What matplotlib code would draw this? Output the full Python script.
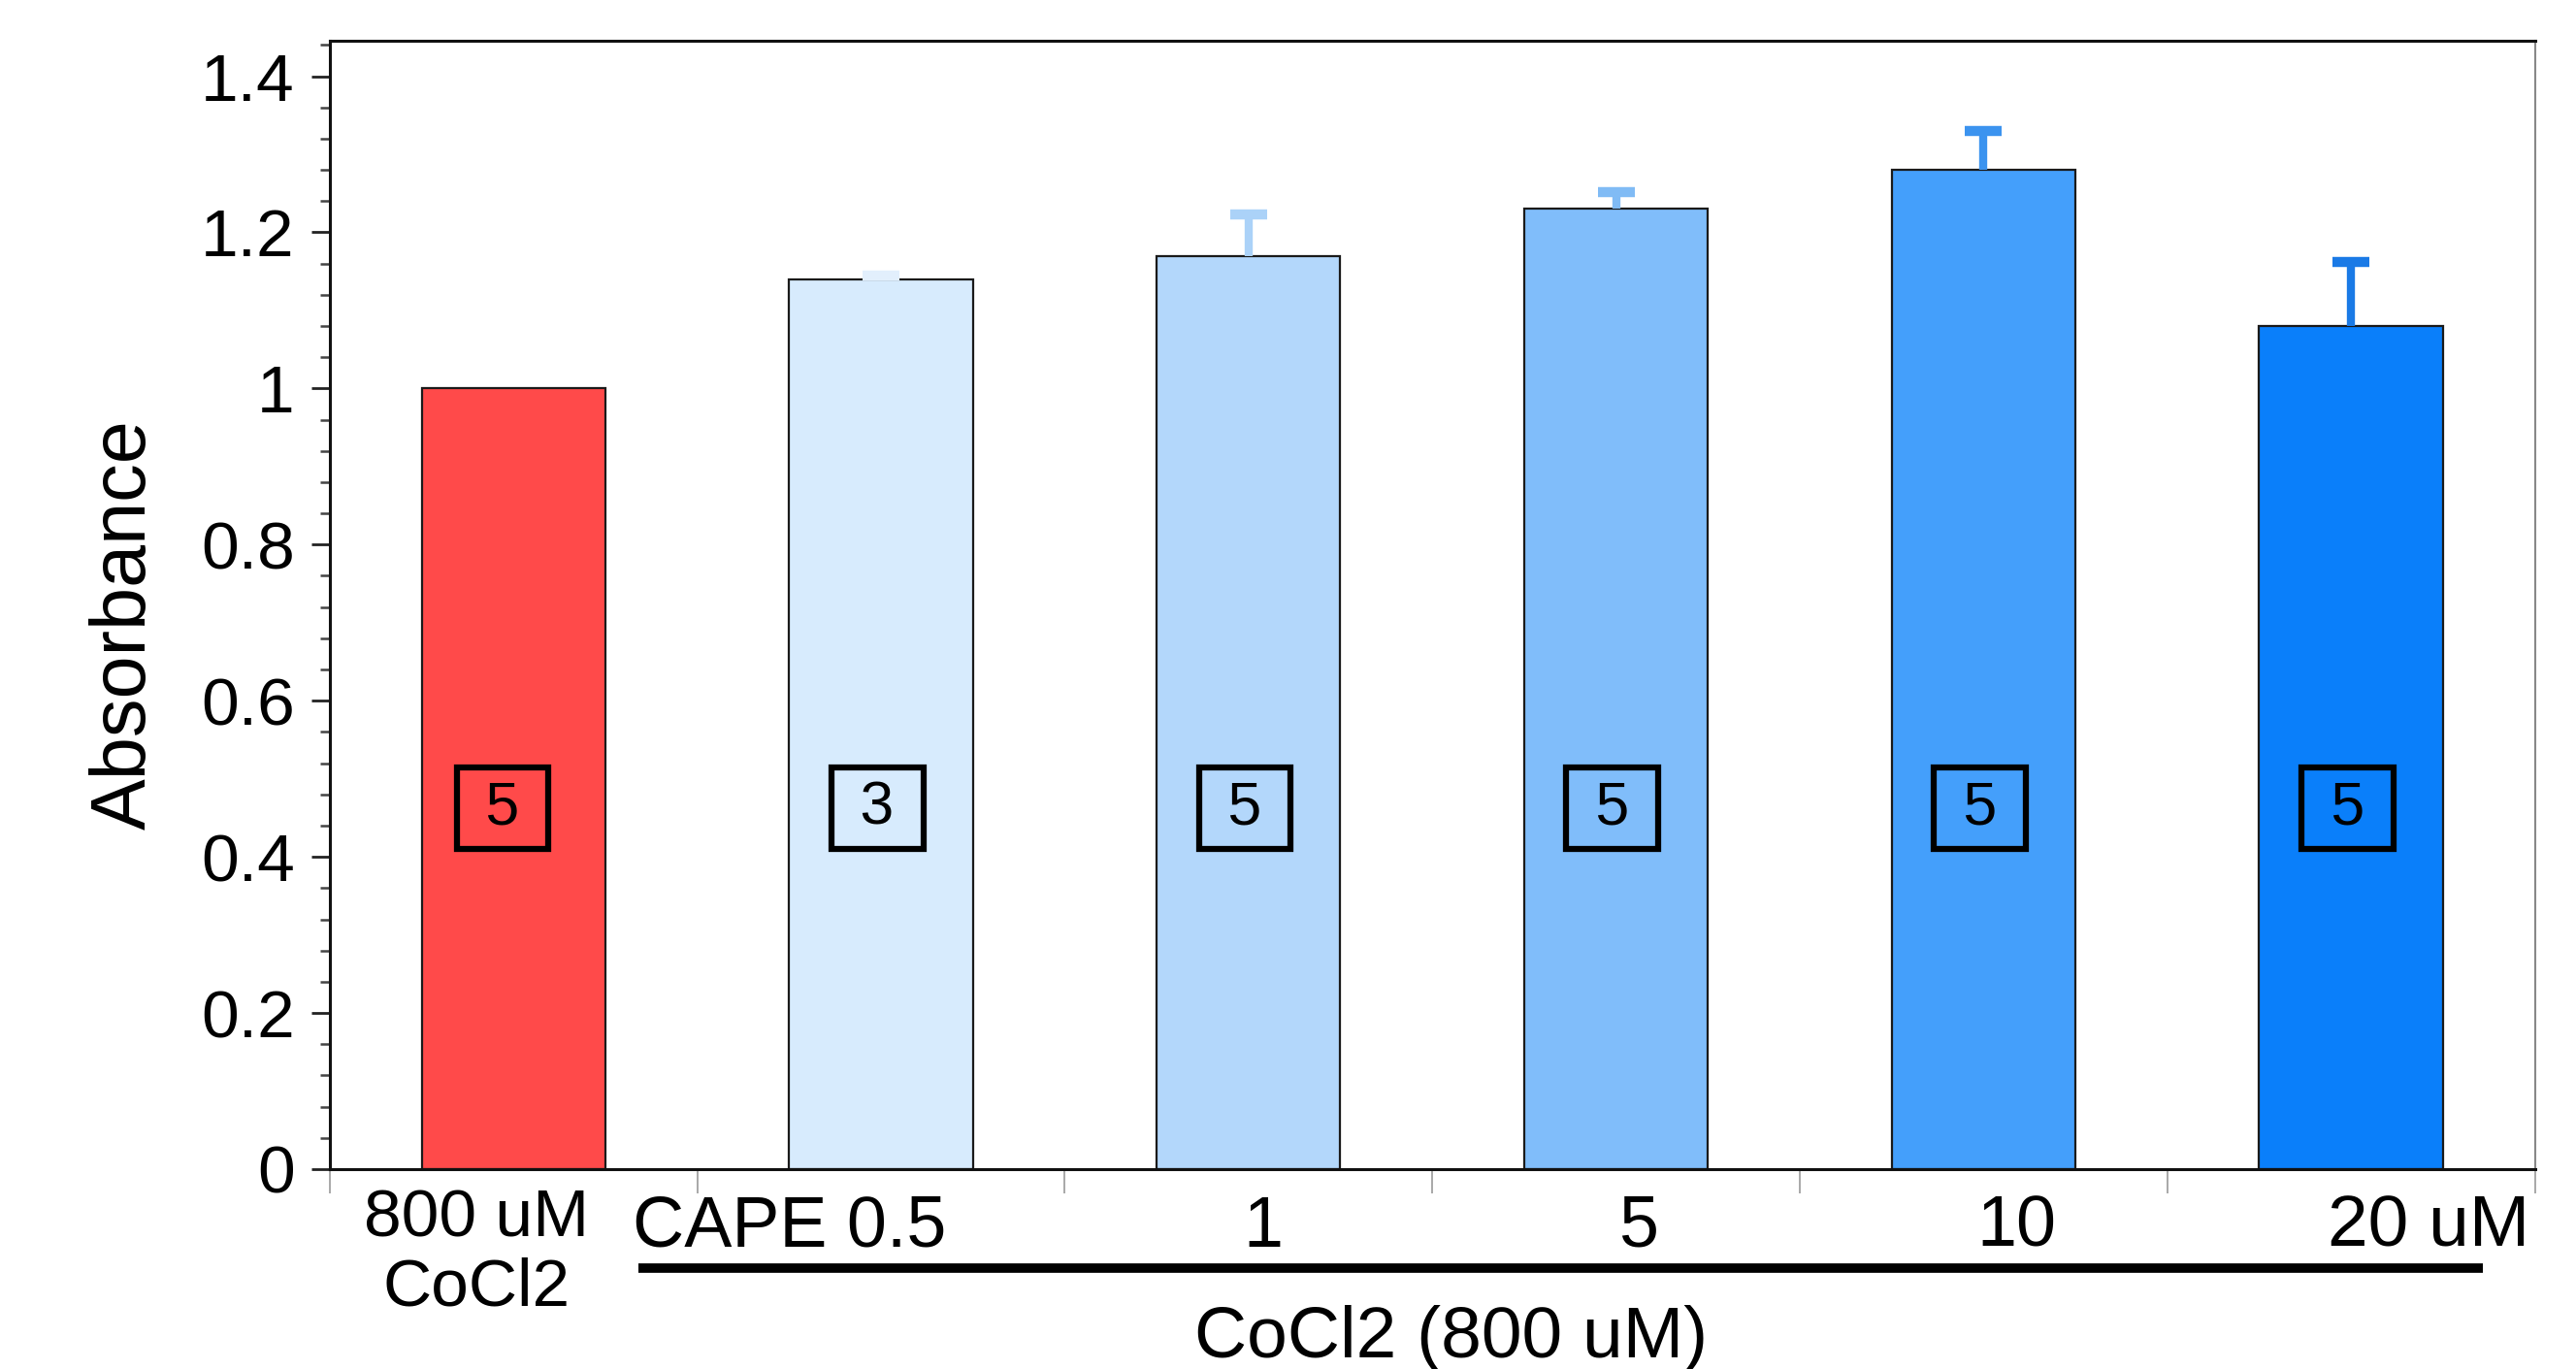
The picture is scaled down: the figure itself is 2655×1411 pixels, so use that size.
import matplotlib.pyplot as plt
from matplotlib.ticker import MultipleLocator, FuncFormatter

plt.rcParams["font.family"] = ["Liberation Sans", "DejaVu Sans"]

# data
groups = ["800 uM\nCoCl2", "CAPE 0.5", "1", "5", "10", "20 uM"]
absorbance = [1.00, 1.14, 1.17, 1.23, 1.28, 1.08]
sem = [0.0, 0.005, 0.053, 0.022, 0.05, 0.082]
n_values = [5, 3, 5, 5, 5, 5]
group_title = "CoCl2 (800 uM)"

bar_colors = ["#ff4a4a", "#d7ebfd", "#b3d7fb", "#80bdfa", "#449ffb", "#0a7ffa"]
err_colors = ["#ff4a4a", "#e2effc", "#abd2f8", "#80bbf5", "#3b93ef", "#1a7ae6"]
label_shift = [-0.10, -0.25, 0.04, 0.06, 0.09, 0.21]
label_size = [50, 53, 53, 53, 53, 54]

x = list(range(len(groups)))

fig = plt.figure(figsize=(26.55, 14.11), dpi=100)
ax = fig.add_axes([0.128, 0.146, 0.856, 0.824])

ax.bar(x, absorbance, width=0.5, color=bar_colors, edgecolor="#1a1a1a",
       linewidth=1.6, zorder=2)

for i in x:
    if sem[i] <= 0:
        continue
    _, caps, _ = ax.errorbar(i, absorbance[i], yerr=[[0], [sem[i]]], fmt="none",
                             ecolor=err_colors[i], elinewidth=6, capsize=14,
                             capthick=7.5, zorder=3)
    caps[0].set_visible(False)

# n per group, boxed
for i, n in zip(x, n_values):
    bx = i - 0.03 if i == 0 else i - 0.01
    ax.text(bx, 0.462, " %d " % n, ha="center", va="center", fontsize=45,
            zorder=4,
            bbox=dict(boxstyle="square,pad=0.2", fc="none", ec="black", lw=4.5))

ax.set_xlim(-0.5, len(groups) - 0.5)
ax.set_ylim(0, 1.445)

ax.yaxis.set_major_locator(MultipleLocator(0.2))
ax.yaxis.set_minor_locator(MultipleLocator(0.04))
ax.yaxis.set_major_formatter(FuncFormatter(lambda v, p: "%g" % round(v, 2)))
ax.tick_params(axis="y", which="major", labelsize=50, length=14, width=2,
               pad=12, color="#222")
ax.tick_params(axis="y", which="minor", length=7, width=1.8, color="#444")

ax.set_xticks([i - 0.5 for i in range(len(groups) + 1)])
ax.set_xticklabels([])
ax.tick_params(axis="x", which="major", length=18, width=1.2, color="#999")

trans = ax.get_xaxis_transform()
for i, (g, dx, fs) in enumerate(zip(groups, label_shift, label_size)):
    if "\n" in g:
        ax.text(i + dx, -0.075, g, transform=trans, ha="center", va="center",
                fontsize=fs, linespacing=1.15)
    else:
        ax.text(i + dx, -0.052, g, transform=trans, ha="center", va="center",
                fontsize=fs)

ax.plot([1 - 0.66, len(groups) - 0.64], [-0.088, -0.088], transform=trans,
        color="black", lw=7, solid_capstyle="butt", clip_on=False)
ax.text(2.55, -0.15, group_title, transform=trans, ha="center", va="center",
        fontsize=54)

ax.set_ylabel("Absorbance", fontsize=57)
ax.yaxis.set_label_coords(-0.076, 0.483)

for side in ["left", "bottom", "top"]:
    ax.spines[side].set_linewidth(2.2)
    ax.spines[side].set_color("#111")
ax.spines["right"].set_linewidth(1.5)
ax.spines["right"].set_color("#888")

fig.savefig("out.png", dpi=100)
